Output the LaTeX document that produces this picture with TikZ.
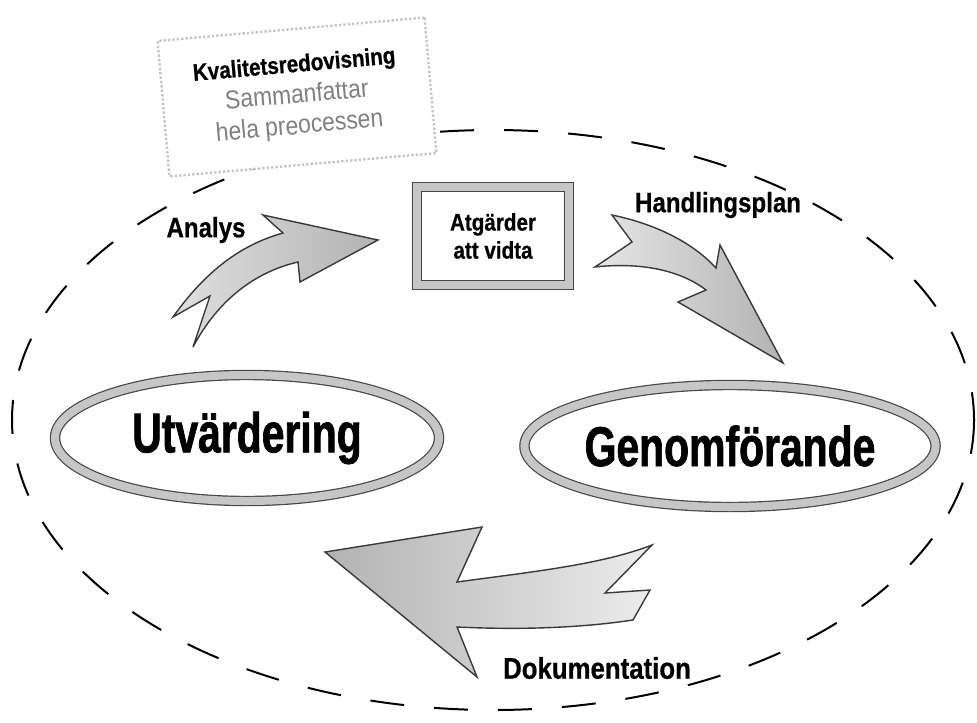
\documentclass[tikz,border=0pt]{standalone}
\usepackage{fontspec}
\setmainfont{Liberation Sans}
\newfontfamily\labelfont[FakeStretch=0.86,FakeBold=0.6]{Liberation Sans}
\newfontfamily\plainfont[FakeStretch=0.88]{Liberation Sans}
\newfontfamily\stagefont[FakeStretch=0.73,FakeBold=1.2]{Liberation Sans}
\usetikzlibrary{shapes.geometric,backgrounds}
\tikzset{
	x=0.5pt, y=-0.5pt,
	cycleborder/.style={draw=black, line width=1pt, dash pattern=on 17pt off 15pt},
	stage/.style={ellipse, draw=gray!55!black, double=gray!45, double distance=4pt, line width=.6pt,
		fill=white, inner sep=0pt, font=\stagefont\bfseries\fontsize{28}{30}\selectfont},
	todo/.style={rectangle, draw=gray!55!black, double=gray!45, double distance=4pt, line width=.6pt,
		fill=white, minimum width=76pt, minimum height=49pt, align=center,
		font=\labelfont\bfseries\fontsize{12}{14}\selectfont},
	summary/.style={rectangle, draw=gray!45, densely dotted, line width=1.2pt, fill=white,
		minimum width=134pt, minimum height=68pt, align=center, rotate=5,
		font=\plainfont\fontsize{13}{15.5}\selectfont},
	steplabel/.style={font=\labelfont\bfseries\fontsize{14}{16}\selectfont},
	flow/.style={draw=gray!45!black, line width=.7pt},
}
\begin{document}
\begin{tikzpicture}
	\useasboundingbox (0,0) rectangle (977,722);
	% outer cycle
	\draw[cycleborder] (493,420) ellipse [x radius=481, y radius=290];
	\node[summary] (summary) at (297,97) {{\labelfont\bfseries\fontsize{12}{14}\selectfont Kvalitetsredovisning}\\
		\textcolor{gray}{Sammanfattar}\\ \textcolor{gray}{hela preocessen}};
	% stages
	\node[stage, minimum width=192pt, minimum height=63pt] (eval) at (247,438) {Utvärdering};
	\node[stage, minimum width=192pt, minimum height=61pt] (exec) at (730,446) {Genomförande};
	\node[todo] (todo) at (493,236) {Atgärder\\att vidta};
	% arrows
	\path[flow, left color=gray!25, right color=gray!60]
		(173,317) .. controls (205,272) and (240,245) .. (283,233) -- (263,215) -- (378,240)
		-- (300,282) -- (298,262) .. controls (255,272) and (218,300) .. (193,347) -- (210,296) -- cycle;
	\path[flow, left color=gray!20, right color=gray!60]
		(612,215) .. controls (660,225) and (695,245) .. (716,268) -- (720,245) -- (783,363)
		-- (678,302) -- (706,290) .. controls (680,270) and (640,262) .. (595,267) -- (632,242) -- cycle;
	\path[flow, left color=gray!60, right color=gray!15]
		(325,552) -- (482,527) -- (457,582) .. controls (530,572) and (600,565) .. (652,545)
		-- (605,593) -- (650,590) -- (633,620) .. controls (580,628) and (520,630) .. (457,627)
		-- (477,677) -- cycle;
	% labels
	\node[steplabel] (analys) at (206,230) {Analys};
	\node[steplabel] (plan) at (718,205) {Handlingsplan};
	\node[steplabel, font=\labelfont\bfseries\fontsize{15}{17}\selectfont] (docs) at (597,668) {Dokumentation};
\end{tikzpicture}
\end{document}
